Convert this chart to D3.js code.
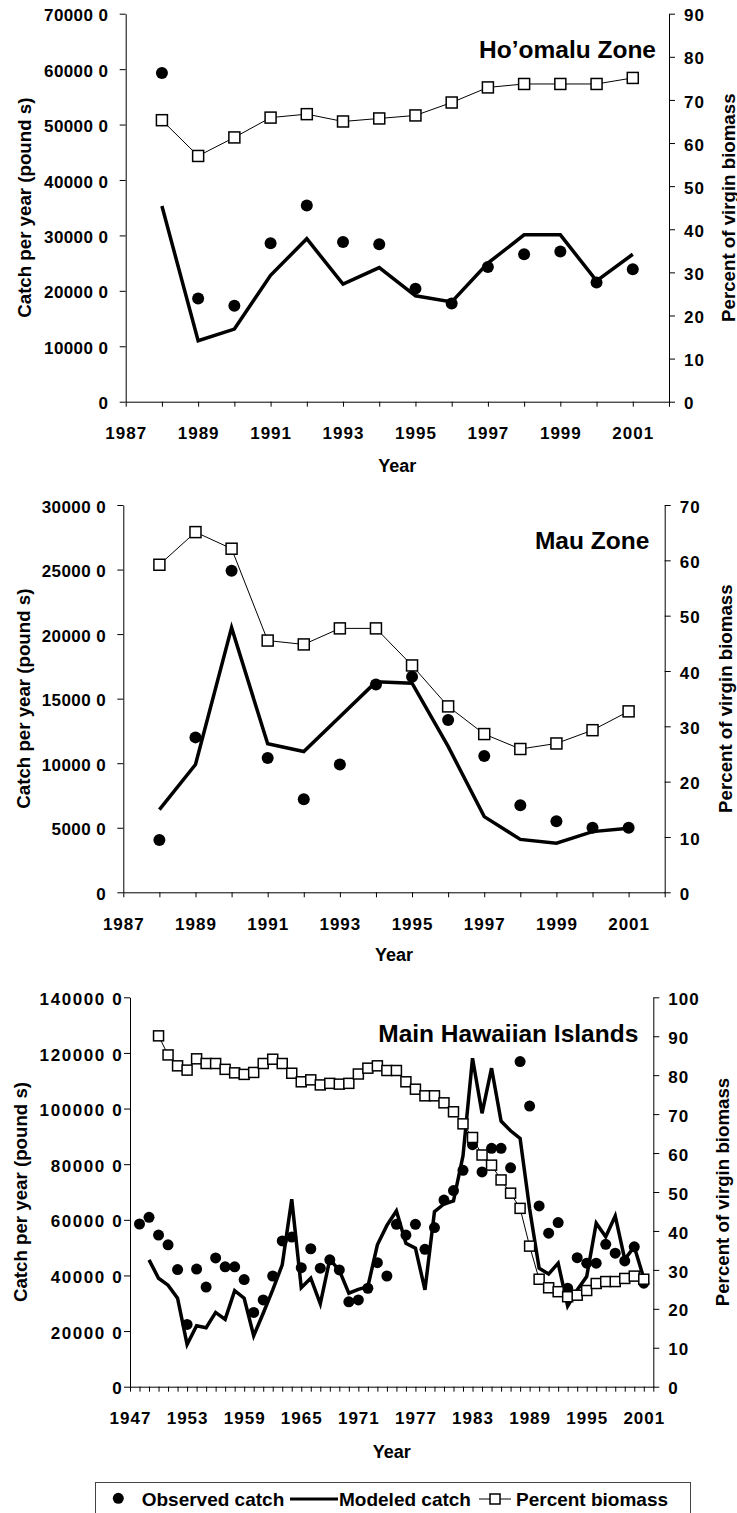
<!DOCTYPE html>
<html>
<head>
<meta charset="utf-8">
<script src="https://cdn.jsdelivr.net/npm/d3@7"></script>
<style>
  body { margin: 0; background: #fff; }
  svg text { font-family: "Liberation Sans", Arial, sans-serif; font-weight: bold; fill: #000; }
</style>
</head>
<body>
<svg id="chart" width="737" height="1513"></svg>
<script>
var width = 737;
var height = 1513;

// ---- Ho'omalu Zone ----
var yearsHoomalu    = [1988, 1989, 1990, 1991, 1992, 1993, 1994, 1995, 1996, 1997, 1998, 1999, 2000, 2001];
var observedHoomalu = [593000, 186000, 173000, 286000, 354000, 288000, 284000, 204000, 177000, 243000, 266000, 271000, 215000, 239000];
var modeledHoomalu  = [353000, 110000, 131000, 228000, 294000, 212000, 242000, 191000, 180000, 250000, 301000, 301000, 218000, 266000];
var biomassHoomalu  = [65.3, 57.0, 61.3, 65.9, 66.7, 65.0, 65.7, 66.4, 69.4, 72.9, 73.7, 73.7, 73.7, 75.1];

// ---- Mau Zone ----
var yearsMau    = [1988, 1989, 1990, 1991, 1992, 1993, 1994, 1995, 1996, 1997, 1998, 1999, 2000, 2001];
var observedMau = [40500, 120000, 249000, 104000, 72000, 99000, 161000, 167000, 133500, 105600, 67400, 55000, 50000, 50000];
var modeledMau  = [64000, 99000, 205000, 115000, 109000, 136000, 163000, 162000, 113000, 58600, 41000, 38000, 47000, 49600];
var biomassMau  = [59.2, 65.1, 62.1, 45.5, 44.8, 47.7, 47.7, 41.0, 33.6, 28.6, 25.9, 26.9, 29.3, 32.7];

// ---- Main Hawaiian Islands ----
var yearsMHI = [1948, 1949, 1950, 1951, 1952, 1953, 1954, 1955, 1956, 1957, 1958, 1959, 1960, 1961,
                1962, 1963, 1964, 1965, 1966, 1967, 1968, 1969, 1970, 1971, 1972, 1973, 1974, 1975,
                1976, 1977, 1978, 1979, 1980, 1981, 1982, 1983, 1984, 1985, 1986, 1987, 1988, 1989,
                1990, 1991, 1992, 1993, 1994, 1995, 1996, 1997, 1998, 1999, 2000, 2001];
var observedMHI = [585000, 609000, 545000, 510000, 421000, 224000, 423000, 358000, 463000, 431000, 431000, 385000, 267000, 312000,
                   398000, 524000, 538000, 428000, 496000, 426000, 456000, 420000, 305000, 312000, 354000, 446000, 398000, 584000,
                   545000, 584000, 494000, 572000, 671000, 705000, 778000, 870000, 772000, 857000, 857000, 787000, 1169000, 1009000,
                   650000, 552000, 590000, 354000, 464000, 444000, 444000, 512000, 480000, 452000, 503000, 372000];
var modeledMHI  = [null, 456000, 390000, 365000, 318000, 152000, 219000, 212000, 267000, 242000, 345000, 318000, 183000, 264000,
                   348000, 438000, 674000, 356000, 390000, 298000, 458000, 418000, 336000, 350000, 360000, 510000, 580000, 632000,
                   516000, 498000, 348000, 629000, 657000, 668000, 830000, 1181000, 983000, 1145000, 955000, 920000, 893000, 640000,
                   426000, 405000, 444000, 290000, 348000, 396000, 588000, 539000, 614000, 458000, 503000, 390000];
var biomassMHI  = [null, null, 90.1, 85.2, 82.4, 81.3, 84.2, 83.0, 83.0, 81.5, 80.6, 80.2, 80.7, 83.0,
                   84.1, 83.0, 80.5, 78.3, 78.8, 77.5, 77.9, 77.7, 77.9, 80.3, 81.8, 82.4, 81.2, 81.2,
                   78.3, 76.4, 74.7, 74.7, 72.9, 70.6, 67.5, 64.0, 59.5, 56.9, 53.1, 49.7, 45.8, 36.1,
                   27.6, 25.4, 24.4, 23.1, 23.5, 24.7, 26.5, 27.0, 27.0, 27.8, 28.4, 27.6];

// ---- axis ticks and labels ----
var catchTicksHoomalu  = [0, 100000, 200000, 300000, 400000, 500000, 600000, 700000];
var catchLabelsHoomalu = ["0", "10000 0", "20000 0", "30000 0", "40000 0", "50000 0", "60000 0", "70000 0"];
var pctTicksHoomalu    = [0, 10, 20, 30, 40, 50, 60, 70, 80, 90];

var catchTicksMau  = [0, 50000, 100000, 150000, 200000, 250000, 300000];
var catchLabelsMau = ["0", "5000 0", "10000 0", "15000 0", "20000 0", "25000 0", "30000 0"];
var pctTicksMau    = [0, 10, 20, 30, 40, 50, 60, 70];

var catchTicksMHI  = [0, 200000, 400000, 600000, 800000, 1000000, 1200000, 1400000];
var catchLabelsMHI = ["0", "20000 0", "40000 0", "60000 0", "80000 0", "100000 0", "120000 0", "140000 0"];
var pctTicksMHI    = [0, 10, 20, 30, 40, 50, 60, 70, 80, 90, 100];

var yearLabelsZone = [1987, 1989, 1991, 1993, 1995, 1997, 1999, 2001];
var yearLabelsMHI  = [1947, 1953, 1959, 1965, 1971, 1977, 1983, 1989, 1995, 2001];

var legendLabels = ["Observed catch", "Modeled catch", "Percent biomass"];

var panels = [
    { title: "Ho’omalu Zone", years: yearsHoomalu, observed: observedHoomalu, modeled: modeledHoomalu, biomass: biomassHoomalu,
      xDomain: [1987, 2002], yearLabels: yearLabelsZone,
      catchMax: 700000, catchTicks: catchTicksHoomalu, catchLabels: catchLabelsHoomalu,
      pctMax: 90, pctTicks: pctTicksHoomalu,
      left: 125.7, right: 669, top: 13.7, bottom: 401.7, labelPad: 11.4, leftSpacing: 0.4,
      titleX: 656, titleY: 58.3, leftTitleX: 24, rightTitleX: 728, yearTitleY: 466, r: 6, sq: 11 },
    { title: "Mau Zone", years: yearsMau, observed: observedMau, modeled: modeledMau, biomass: biomassMau,
      xDomain: [1987, 2002], yearLabels: yearLabelsZone,
      catchMax: 300000, catchTicks: catchTicksMau, catchLabels: catchLabelsMau,
      pctMax: 70, pctTicks: pctTicksMau,
      left: 123.3, right: 664.7, top: 505, bottom: 892.3, labelPad: 11.3, leftSpacing: 0.4,
      titleX: 649.3, titleY: 549.3, leftTitleX: 23.5, rightTitleX: 725, yearTitleY: 955, r: 6, sq: 11 },
    { title: "Main Hawaiian Islands", years: yearsMHI, observed: observedMHI, modeled: modeledMHI, biomass: biomassMHI,
      xDomain: [1947, 2002], yearLabels: yearLabelsMHI,
      catchMax: 1400000, catchTicks: catchTicksMHI, catchLabels: catchLabelsMHI,
      pctMax: 100, pctTicks: pctTicksMHI,
      left: 130, right: 653.3, top: 997.3, bottom: 1386.7, labelPad: 0.7, leftSpacing: 1.6,
      titleX: 638.3, titleY: 1041.7, leftTitleX: 20, rightTitleX: 722.7, yearTitleY: 1452, r: 5.5, sq: 10 }
];

var svg = d3.select("#chart");

function styleAxis(sel, spacing) {
    sel.attr("font-size", 17)
        .attr("font-family", null)
        .attr("color", "#000");
    sel.selectAll("text").style("letter-spacing", spacing + "px");
    sel.selectAll("line, path").attr("stroke-width", 1);
}

function drawPanel(p) {
    var g = svg.append("g");

    var x = d3.scaleLinear().domain(p.xDomain).range([p.left, p.right]);
    var yCatch = d3.scaleLinear().domain([0, p.catchMax]).range([p.bottom, p.top]);
    var yPct = d3.scaleLinear().domain([0, p.pctMax]).range([p.bottom, p.top]);

    // x axis: a tick every year, labels only on some
    var xAxis = d3.axisBottom(x)
        .tickValues(d3.range(p.xDomain[0], p.xDomain[1] + 1))
        .tickFormat(function(d) { return p.yearLabels.indexOf(d) >= 0 ? d : ""; })
        .tickSize(5)
        .tickSizeOuter(0)
        .tickPadding(20.5);
    g.append("g")
        .attr("transform", "translate(0," + p.bottom + ")")
        .call(xAxis)
        .call(styleAxis, 1);

    var leftAxis = d3.axisLeft(yCatch)
        .tickValues(p.catchTicks)
        .tickFormat(function(d, i) { return p.catchLabels[i]; })
        .tickSize(6)
        .tickSizeOuter(0)
        .tickPadding(p.labelPad);
    g.append("g")
        .attr("transform", "translate(" + p.left + ",0)")
        .call(leftAxis)
        .call(styleAxis, p.leftSpacing)
        .selectAll("text").attr("dy", "0.42em");

    var rightAxis = d3.axisRight(yPct)
        .tickValues(p.pctTicks)
        .tickSize(6)
        .tickSizeOuter(0)
        .tickPadding(9);
    g.append("g")
        .attr("transform", "translate(" + p.right + ",0)")
        .call(rightAxis)
        .call(styleAxis, 1)
        .selectAll("text").attr("dy", "0.42em");

    // axis titles
    var midY = (p.top + p.bottom) / 2;
    g.append("text")
        .attr("transform", "translate(" + p.leftTitleX + "," + midY + ") rotate(-90)")
        .attr("text-anchor", "middle")
        .attr("dominant-baseline", "central")
        .attr("font-size", 18.7)
        .text("Catch per year (pound s)");
    g.append("text")
        .attr("transform", "translate(" + p.rightTitleX + "," + midY + ") rotate(-90)")
        .attr("text-anchor", "middle")
        .attr("dominant-baseline", "central")
        .attr("font-size", 18.7)
        .text("Percent of virgin biomass");
    g.append("text")
        .attr("x", (p.left + p.right) / 2)
        .attr("y", p.yearTitleY)
        .attr("text-anchor", "middle")
        .attr("dominant-baseline", "central")
        .attr("font-size", 18)
        .text("Year");

    // panel title
    g.append("text")
        .attr("x", p.titleX)
        .attr("y", p.titleY)
        .attr("text-anchor", "end")
        .attr("font-size", 24.5)
        .text(p.title);

    var rows = p.years.map(function(yr, i) {
        return { year: yr, observed: p.observed[i], modeled: p.modeled[i], biomass: p.biomass[i] };
    });

    // observed catch dots
    g.append("g").selectAll("circle")
        .data(rows.filter(function(d) { return d.observed != null; }))
        .enter().append("circle")
        .attr("cx", function(d) { return x(d.year); })
        .attr("cy", function(d) { return yCatch(d.observed); })
        .attr("r", p.r)
        .attr("fill", "#000");

    // modeled catch line
    var modeledLine = d3.line()
        .defined(function(d) { return d.modeled != null; })
        .x(function(d) { return x(d.year); })
        .y(function(d) { return yCatch(d.modeled); });
    g.append("path")
        .datum(rows)
        .attr("d", modeledLine)
        .attr("fill", "none")
        .attr("stroke", "#000")
        .attr("stroke-width", 3.5)
        .attr("stroke-linejoin", "miter");

    // percent biomass line with squares
    var bioRows = rows.filter(function(d) { return d.biomass != null; });
    var bioLine = d3.line()
        .x(function(d) { return x(d.year); })
        .y(function(d) { return yPct(d.biomass); });
    g.append("path")
        .datum(bioRows)
        .attr("d", bioLine)
        .attr("fill", "none")
        .attr("stroke", "#000")
        .attr("stroke-width", 1);
    g.append("g").selectAll("rect")
        .data(bioRows)
        .enter().append("rect")
        .attr("x", function(d) { return x(d.year) - p.sq / 2; })
        .attr("y", function(d) { return yPct(d.biomass) - p.sq / 2; })
        .attr("width", p.sq)
        .attr("height", p.sq)
        .attr("fill", "#fff")
        .attr("stroke", "#000")
        .attr("stroke-width", 1.5);
}

panels.forEach(drawPanel);

// legend
var legend = svg.append("g");
legend.append("rect")
    .attr("x", 95.5).attr("y", 1482.5)
    .attr("width", 595).attr("height", 40)
    .attr("fill", "#fff").attr("stroke", "#444").attr("stroke-width", 1);
var ly = 1499;
legend.append("circle").attr("cx", 118.3).attr("cy", 1498.3).attr("r", 5.5).attr("fill", "#000");
legend.append("text").attr("x", 141.7).attr("y", ly).attr("dominant-baseline", "central")
    .attr("font-size", 19).text(legendLabels[0]);
legend.append("line").attr("x1", 290).attr("x2", 338).attr("y1", ly).attr("y2", ly)
    .attr("stroke", "#000").attr("stroke-width", 3);
legend.append("text").attr("x", 339).attr("y", ly).attr("dominant-baseline", "central")
    .attr("font-size", 19).text(legendLabels[1]);
legend.append("line").attr("x1", 479).attr("x2", 511).attr("y1", ly).attr("y2", ly)
    .attr("stroke", "#000").attr("stroke-width", 1);
legend.append("rect").attr("x", 490).attr("y", ly - 5).attr("width", 10).attr("height", 10)
    .attr("fill", "#fff").attr("stroke", "#000").attr("stroke-width", 1.5);
legend.append("text").attr("x", 516).attr("y", ly).attr("dominant-baseline", "central")
    .attr("font-size", 19).text(legendLabels[2]);
</script>
</body>
</html>
